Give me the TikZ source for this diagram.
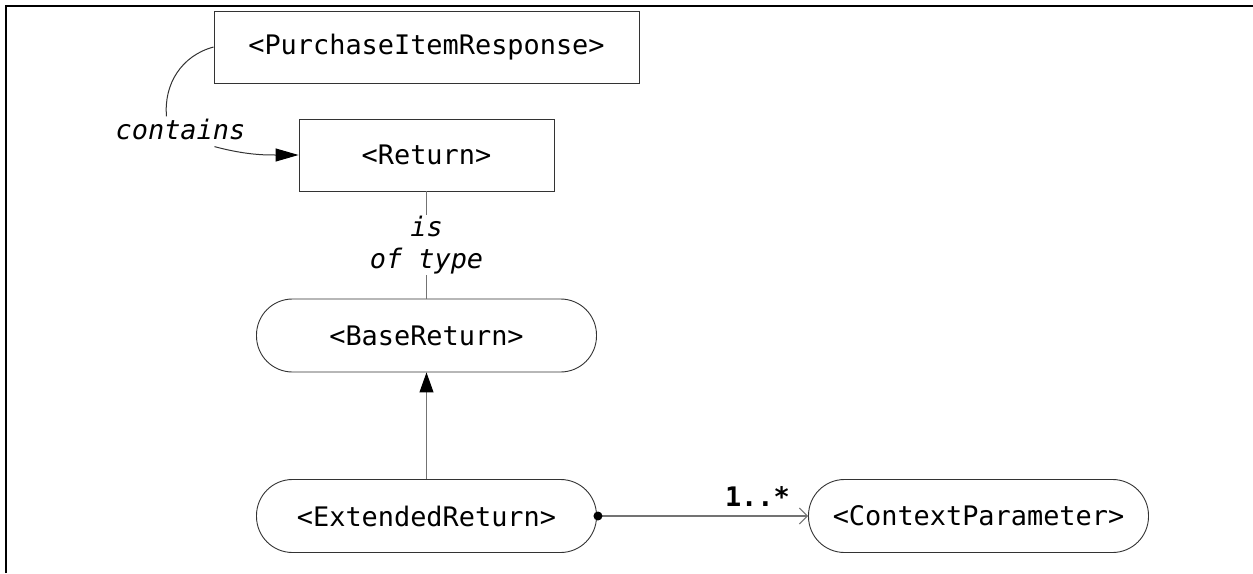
\documentclass[tikz,border=0pt]{standalone}
\usepackage{fontspec}
\setmonofont{DejaVu Sans Mono}
\usetikzlibrary{positioning, arrows.meta}
\tikzset{
node distance=180.5pt, % centre to centre for below of / right of
every node/.style={font=\ttfamily\fontsize{26.9}{32}\selectfont},
box/.style={draw=black!80, line width=0.9pt, minimum height=72pt, inner sep=0pt}, % plain element
pill/.style={box, rounded corners=36pt, minimum width=340pt, minimum height=73pt}, % type
link/.style={draw=black!55, line width=1pt},
role/.style={font=\ttfamily\itshape\fontsize{26.9}{32}\selectfont, inner sep=2pt},
}

\begin{document}
\begin{tikzpicture}
                \useasboundingbox (0,0) rectangle (1253pt,-573pt);
                \draw[line width=2.5pt] (6pt,-573pt) -- (6pt,-6pt) -- (1253pt,-6pt);
                \node[box, minimum width=425pt] (pir) at (426.5pt,-47pt) {<PurchaseItemResponse>};
                \node[box, minimum width=255pt, below of=pir, node distance=108pt] (ret) {<Return>};
                \node[pill, below of=ret] (base) {<BaseReturn>};
                \node[pill, below of=base] (ext) {<ExtendedReturn>};
                \node[pill, right of=ext, node distance=552pt] (ctx) {<ContextParameter>};
                \node[role] (cont) at (180.5pt,-129pt) {contains};
                \draw[link, black!80] (pir.west) to[out=195, in=95] ([xshift=-14pt]cont.north);
                \draw[link, black!80, -{Triangle[length=23pt,width=13pt,color=black]}] ([xshift=34pt,yshift=-5pt]cont.south) to[out=-15, in=180] (ret.west);
                \draw[link] (ret) -- node[role, fill=white, align=center, inner sep=1pt] (typ) {is\\of type} (base);
                \draw[link, -{Triangle[length=20pt,width=14pt,color=black]}] (ext) -- (base);
                \draw[link, line width=1.5pt, -{Straight Barb[length=8pt,width=16pt,line width=1pt]}] (ext) -- node[pos=0.76, above=9pt, inner sep=0pt, font=\ttfamily\bfseries\fontsize{26.9}{32}\selectfont] (mult) {1..*} (ctx);
                \fill ([xshift=1pt]ext.east) circle (4.5pt);
            \end{tikzpicture}
\end{document}
